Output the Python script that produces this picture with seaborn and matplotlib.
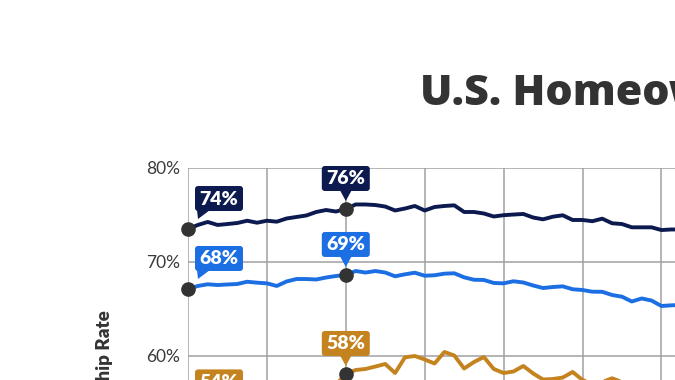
import matplotlib
matplotlib.use("Agg")
import matplotlib.pyplot as plt
import matplotlib.transforms as mtransforms
from matplotlib.patches import FancyBboxPatch, Polygon
import numpy as np
import pandas as pd
import seaborn as sns

# ---------------- data ----------------
periods = list(range(51))
navy_vals = [73.51, 73.94, 74.26, 73.94, 74.04, 74.15, 74.39, 74.18, 74.39, 74.29,
             74.63, 74.79, 74.95, 75.32, 75.53, 75.37, 75.64, 76.12, 76.12, 76.06,
             75.90, 75.48, 75.69, 75.96, 75.48, 75.85, 75.96, 76.03, 75.32, 75.32,
             75.16, 74.84, 74.98, 75.05, 75.11, 74.73, 74.54, 74.82, 74.97, 74.47,
             74.47, 74.34, 74.61, 74.12, 74.04, 73.69, 73.69, 73.69, 73.40, 73.46,
             73.46]
blue_vals = [67.13, 67.45, 67.63, 67.55, 67.61, 67.66, 67.90, 67.80, 67.73, 67.45,
             67.93, 68.19, 68.19, 68.14, 68.35, 68.51, 68.62, 69.04, 68.88, 69.04,
             68.88, 68.48, 68.69, 68.86, 68.54, 68.59, 68.76, 68.80, 68.37, 68.11,
             68.09, 67.77, 67.73, 67.95, 67.82, 67.50, 67.23, 67.34, 67.41, 67.10,
             67.02, 66.84, 66.83, 66.49, 66.31, 65.80, 66.12, 65.90, 65.32, 65.39,
             65.43]
orange_vals = [54.00, 54.40, 54.90, 55.20, 55.00, 55.60, 55.90, 56.10, 56.40, 56.30,
               56.60, 56.80, 56.90, 56.70, 56.90, 56.95, 58.09, 58.51, 58.62, 58.88,
               59.15, 58.19, 59.86, 60.00, 59.63, 59.20, 60.43, 60.05, 58.67, 59.36,
               59.89, 58.62, 58.19, 58.35, 58.94, 58.14, 57.50, 57.55, 57.71, 58.30,
               57.45, 57.02, 57.23, 57.63, 57.23, 56.90, 56.70, 56.80, 56.50, 56.60,
               56.40]
series_names = ["Group A", "Group B", "Group C"]
series_colors = ["#0c1a4f", "#1c6fe3", "#c4831e"]
# callouts: (series index, period index, label)
callouts = [(0, 0, "74%"), (0, 16, "76%"),
            (1, 0, "68%"), (1, 16, "69%"),
            (2, 0, "54%"), (2, 16, "58%")]
ytick_vals = [30, 40, 50, 60, 70, 80]
ytick_labels = ["30%", "40%", "50%", "60%", "70%", "80%"]
title_text = "U.S. Homeownership Rates by Group"
ylabel_text = "Homeownership Rate"

values = [navy_vals, blue_vals, orange_vals]
df = pd.DataFrame({
    "period": periods * 3,
    "rate": navy_vals + blue_vals + orange_vals,
    "group": sum([[n] * len(periods) for n in series_names], []),
})

# ---------------- figure ----------------
sns.set_theme(style="white")
plt.rcParams["font.family"] = ["Lato", "DejaVu Sans"]

W, H = 675, 380
fig = plt.figure(figsize=(W / 100, H / 100), dpi=100)
ax_left, ax_top = 188, 168
px_per_unit_x = 78.9 / 8
px_per_unit_y = 9.4
xlim = (0, 80)
ylim = (30, 80)
aw = (xlim[1] - xlim[0]) * px_per_unit_x
ah = (ylim[1] - ylim[0]) * px_per_unit_y
ax = fig.add_axes([ax_left / W, (H - ax_top - ah) / H, aw / W, ah / H])

sns.lineplot(data=df, x="period", y="rate", hue="group",
             palette=dict(zip(series_names, series_colors)),
             linewidth=2.8, legend=False, ax=ax, zorder=3)

ax.set_xlim(*xlim)
ax.set_ylim(*ylim)
ax.set_xticks(np.arange(0, 81, 8))
ax.set_xticklabels([])
ax.set_yticks(ytick_vals)
ax.set_yticklabels(ytick_labels)
ax.tick_params(axis="both", length=0)
ax.tick_params(axis="y", pad=6, labelsize=12.5, labelcolor="#3a3a3a")
ax.grid(True, color="#a0a0a0", linewidth=1.1)
for s in ax.spines.values():
    s.set_visible(False)
ax.set_xlabel("")
ax.set_ylabel("")

# markers at callout points
for si, pi, _ in callouts:
    ax.plot(periods[pi], values[si][pi], "o", color="#333333", markersize=9.5,
            zorder=5, clip_on=False)

# callout boxes (pixel geometry anchored at the data point)
fig.canvas.draw()
ident = mtransforms.IdentityTransform()
bw, bh, gap = 48, 25, 18
for si, pi, lab in callouts:
    px, py = ax.transData.transform((periods[pi], values[si][pi]))
    col = series_colors[si]
    if pi == 0:
        x0 = px + 7
        tail = [(px + 9, py + gap + 1), (px + 22, py + gap + 1), (px + 10, py + 10)]
    else:
        x0 = px - bw / 2
        tail = [(px - 6, py + gap + 1), (px + 6, py + gap + 1), (px, py + 8)]
    y0 = py + gap
    box = FancyBboxPatch((x0, y0), bw, bh, boxstyle="round,pad=0,rounding_size=3",
                         transform=ident, facecolor=col, edgecolor="none", zorder=6)
    fig.add_artist(box)
    fig.add_artist(Polygon(tail, closed=True, transform=ident, facecolor=col,
                           edgecolor="none", zorder=6))
    fig.text(x0 + bw / 2, y0 + bh / 2 - 0.5, lab, transform=ident, ha="center",
             va="center", color="white", fontsize=14, fontweight="heavy", zorder=7)

# title and y label (only partially inside the canvas)
fig.text(420 / W, 1 - 105 / H, title_text, ha="left", va="baseline",
         fontsize=31, fontweight="heavy", color="#333333",
         family=["Open Sans", "Lato", "DejaVu Sans"])
fig.text(104 / W, 1 - 310 / H, ylabel_text, rotation=90, ha="center", va="top",
         fontsize=13.5, fontweight="heavy", color="#333333")

fig.savefig("out.png", dpi=100)
